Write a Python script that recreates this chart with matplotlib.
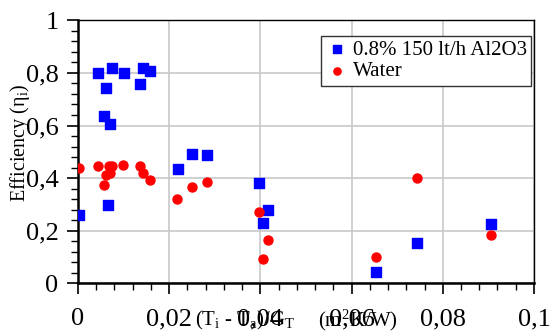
import numpy as np
import matplotlib
matplotlib.use("Agg")
import matplotlib.pyplot as plt
from matplotlib.ticker import MultipleLocator, FuncFormatter

plt.rcParams.update({
    "font.family": "serif",
    "font.serif": ["Liberation Serif", "DejaVu Serif"],
    "mathtext.fontset": "custom",
    "mathtext.rm": "Liberation Serif",
    "mathtext.it": "Liberation Serif",
})

# 0.8% 150 lt/h Al2O3
x_nano = [0.0043, 0.0061, 0.0075, 0.0100, 0.0135, 0.0143, 0.0159, 0.0056, 0.0070,
          0.0249, 0.0282, 0.0219, 0.0065, 0.0002, 0.0397, 0.0416, 0.0406,
          0.0654, 0.0744, 0.0906]
y_nano = [0.800, 0.743, 0.817, 0.800, 0.758, 0.818, 0.806, 0.635, 0.607,
          0.493, 0.488, 0.433, 0.297, 0.259, 0.383, 0.280, 0.229,
          0.043, 0.152, 0.224]

# Water
x_water = [0.0003, 0.0043, 0.0067, 0.0075, 0.0099, 0.0135, 0.0143, 0.0158, 0.0061,
           0.0070, 0.0056, 0.0249, 0.0282, 0.0218, 0.0396, 0.0406, 0.0416,
           0.0654, 0.0744, 0.0906]
y_water = [0.438, 0.446, 0.446, 0.446, 0.449, 0.446, 0.421, 0.393, 0.410,
           0.418, 0.373, 0.367, 0.385, 0.322, 0.271, 0.094, 0.165,
           0.101, 0.402, 0.184]

fig = plt.figure(figsize=(5.5, 3.32), dpi=100)
ax = fig.add_axes([0.1418, 0.1467, 0.829, 0.792])

ax.scatter(x_nano, y_nano, marker="s", s=42, color="#0000ff", zorder=3,
           label="0.8% 150 lt/h Al2O3")
ax.scatter(x_water, y_water, marker="o", s=42, color="#ff0000", zorder=3,
           label="Water")

ax.set_xlim(0, 0.1)
ax.set_ylim(0, 1)
ax.xaxis.set_major_locator(MultipleLocator(0.02))
ax.xaxis.set_minor_locator(MultipleLocator(0.004))
ax.yaxis.set_major_locator(MultipleLocator(0.2))
ax.yaxis.set_minor_locator(MultipleLocator(0.04))

# comma decimal separator, as in the original
fmt = FuncFormatter(lambda v, p: ("%g" % round(v, 3)).replace(".", ","))
ax.xaxis.set_major_formatter(fmt)
ax.yaxis.set_major_formatter(fmt)

ax.grid(True, which="major", color="#c8c8c8", lw=1.2)
ax.set_axisbelow(True)
ax.tick_params(axis="both", which="major", direction="out", length=8, width=1.2,
               labelsize=19, pad=6)
ax.tick_params(axis="both", which="minor", direction="out", length=5, width=1.0)
ax.tick_params(axis="x", pad=10)

for side in ("left", "bottom"):
    ax.spines[side].set_linewidth(1.8)
for side in ("top", "right"):
    ax.spines[side].set_linewidth(1.0)

leg = ax.legend(loc="upper right", bbox_to_anchor=(531 / 550, 1 - 36 / 332),
                bbox_transform=fig.transFigure, fontsize=15,
                frameon=True, fancybox=False, edgecolor="#333333", framealpha=1,
                handletextpad=0.2, handlelength=1.1, borderpad=0.2,
                labelspacing=0.1, borderaxespad=0.0, markerscale=0.8)
leg.get_frame().set_linewidth(1.0)

# axis titles sit on top of the tick labels, like in the source figure
fig.text(20 / 550, 1 - 143 / 332, r"Efficiency ($\eta_{\rm i}$)", rotation=90,
         fontsize=14.5, ha="center", va="center")
fig.text(195 / 550, 1 - 320 / 332, r"$\rm(T_i$ - $\rm T_a)/G_T$", fontsize=15,
         ha="left", va="center")
fig.text(318 / 550, 1 - 320 / 332, r"$\rm(m^2K/W)$", fontsize=15,
         ha="left", va="center")

fig.savefig("out.png", dpi=100)
